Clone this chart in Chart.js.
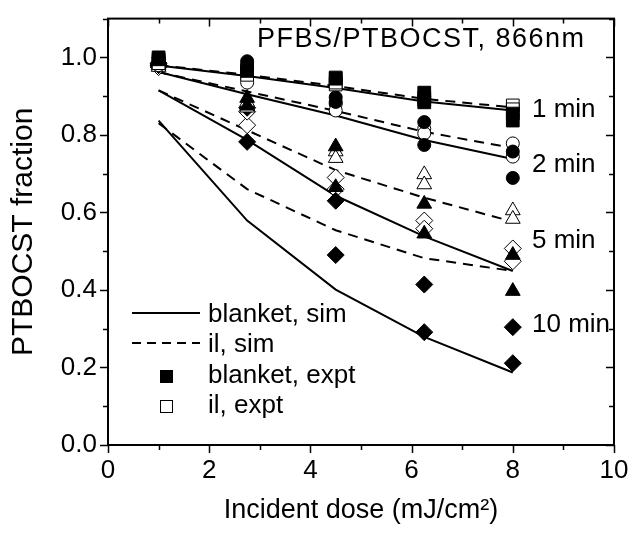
<!DOCTYPE html>
<html><head><meta charset="utf-8">
<script src="https://cdn.jsdelivr.net/npm/chart.js@4/dist/chart.umd.min.js"></script>
<style>html,body{margin:0;padding:0;background:#fff}</style>
</head><body>
<canvas id="c" width="633" height="541"></canvas>
<script>
// ---- data ----
const doses = [1, 2.75, 4.5, 6.25, 8];
const xTickValues = [0, 2, 4, 6, 8, 10];
const xTickLabels = ['0', '2', '4', '6', '8', '10'];
const yTickValues = [0, 0.2, 0.4, 0.6, 0.8, 1.0];
const yTickLabels = ['0.0', '0.2', '0.4', '0.6', '0.8', '1.0'];

// simulations (solid = blanket, dashed = il)
const simBlanket1  = [0.979, 0.952, 0.921, 0.886, 0.863];
const simIl1       = [0.980, 0.955, 0.926, 0.893, 0.871];
const simBlanket2  = [0.962, 0.905, 0.850, 0.787, 0.738];
const simIl2       = [0.962, 0.912, 0.862, 0.808, 0.766];
const simBlanket5  = [0.915, 0.787, 0.643, 0.538, 0.449];
const simIl5       = [0.915, 0.812, 0.709, 0.638, 0.576];
const simBlanket10 = [0.837, 0.579, 0.401, 0.279, 0.187];
const simIl10      = [0.830, 0.660, 0.554, 0.482, 0.449];

// experiments, two runs each (a, b)
const exBlanket1a  = [1.000, 0.970, 0.948, 0.909, 0.855];
const exBlanket1b  = [0.995, 0.965, 0.945, 0.884, 0.837];
const exIl1a       = [0.990, 0.960, 0.930, 0.897, 0.876];
const exIl1b       = [0.985, 0.955, 0.935, 0.890, 0.866];
const exBlanket2a  = [0.998, 0.990, 0.897, 0.833, 0.757];
const exBlanket2b  = [0.990, 0.975, 0.885, 0.774, 0.689];
const exIl2a       = [0.985, 0.948, 0.880, 0.816, 0.778];
const exIl2b       = [0.980, 0.935, 0.863, 0.804, 0.744];
const exBlanket5a  = [0.990, 0.895, 0.770, 0.622, 0.490];
const exBlanket5b  = [0.985, 0.875, 0.665, 0.545, 0.397];
const exIl5a       = [0.980, 0.885, 0.757, 0.698, 0.605];
const exIl5b       = [0.975, 0.870, 0.740, 0.672, 0.583];
const exBlanket10a = [0.985, 0.782, 0.630, 0.414, 0.304];
const exBlanket10b = [0.980, 0.870, 0.490, 0.291, 0.211];
const exIl10a      = [0.975, 0.825, 0.690, 0.579, 0.507];
const exIl10b      = [0.980, 0.860, 0.660, 0.558, 0.474];

const titleText = 'PFBS/PTBOCST, 866nm';
const timeLabels = ['1 min', '2 min', '5 min', '10 min'];
const legendLabels = ['blanket, sim', 'il, sim', 'blanket, expt', 'il, expt'];

// ---- build ----
const FONT = '"Liberation Sans", Arial, Helvetica, sans-serif';
const pts = (ys) => doses.map((x, i) => ({x: x, y: ys[i]}));
const pts2 = (a, b) => pts(a).concat(pts(b));

function markerSet(a, b, style, r, filled) {
  return {
    type: 'scatter', data: pts2(a, b), showLine: false,
    pointStyle: style, pointRadius: r, pointHoverRadius: r,
    backgroundColor: filled ? '#000' : '#fff', borderColor: '#000', borderWidth: 1
  };
}
function lineSet(ys, dashed) {
  return {
    type: 'line', data: pts(ys), showLine: true, fill: false,
    borderColor: '#000', borderWidth: 2, borderDash: dashed ? [10, 7] : [],
    pointRadius: 0, tension: 0
  };
}

const datasets = [
  markerSet(exBlanket1a, exBlanket1b, 'rect', 9, true),
  markerSet(exIl1a, exIl1b, 'rect', 9, false),
  markerSet(exBlanket2a, exBlanket2b, 'circle', 6.5, true),
  markerSet(exIl2a, exIl2b, 'circle', 6.5, false),
  markerSet(exBlanket5a, exBlanket5b, 'triangle', 8.5, true),
  markerSet(exIl5a, exIl5b, 'triangle', 8.5, false),
  markerSet(exBlanket10a, exBlanket10b, 'rectRot', 8.5, true),
  markerSet(exIl10a, exIl10b, 'rectRot', 8.5, false),
  lineSet(simBlanket1, false), lineSet(simIl1, true),
  lineSet(simBlanket2, false), lineSet(simIl2, true),
  lineSet(simBlanket5, false), lineSet(simIl5, true),
  lineSet(simBlanket10, false), lineSet(simIl10, true)
];

const framePlugin = {
  id: 'frame',
  afterDatasetsDraw(chart) {
    const {ctx, chartArea: a, scales: {x, y}} = chart;
    ctx.save();
    ctx.strokeStyle = '#000';
    ctx.lineWidth = 2;
    ctx.strokeRect(a.left, a.top, a.right - a.left, a.bottom - a.top);
    ctx.lineWidth = 1.5;
    ctx.beginPath();
    for (let i = 0; i <= 10; i++) {
      const px = Math.round(x.getPixelForValue(i)) + 0.5;
      const len = i % 2 === 0 ? 8 : 5;
      ctx.moveTo(px, a.bottom); ctx.lineTo(px, a.bottom + len);
      ctx.moveTo(px, a.top); ctx.lineTo(px, a.top + len);
    }
    for (let i = 0; i <= 11; i++) {
      const py = Math.round(y.getPixelForValue(i / 10)) + 0.5;
      const len = i % 2 === 0 ? 8 : 5;
      ctx.moveTo(a.left - len, py); ctx.lineTo(a.left, py);
      ctx.moveTo(a.right - len, py); ctx.lineTo(a.right, py);
    }
    ctx.stroke();
    ctx.restore();
  }
};

const textPlugin = {
  id: 'texts',
  afterDraw(chart) {
    const {ctx} = chart;
    ctx.save();
    ctx.fillStyle = '#000';
    ctx.textBaseline = 'alphabetic';
    ctx.textAlign = 'left';
    ctx.font = '27px ' + FONT;
    if ('letterSpacing' in ctx) ctx.letterSpacing = '1.5px';
    ctx.fillText(titleText, 257, 47);
    if ('letterSpacing' in ctx) ctx.letterSpacing = '0px';
    ctx.font = '26px ' + FONT;
    const tb = [117, 172, 248, 332];
    timeLabels.forEach((t, i) => ctx.fillText(t, 532, tb[i]));
    // legend
    const lb = [322, 352, 383, 413];
    legendLabels.forEach((t, i) => ctx.fillText(t, 208, lb[i]));
    ctx.strokeStyle = '#000';
    ctx.lineWidth = 2;
    ctx.beginPath(); ctx.moveTo(132, 313); ctx.lineTo(200, 313); ctx.stroke();
    ctx.setLineDash([9, 6]);
    ctx.beginPath(); ctx.moveTo(132, 343); ctx.lineTo(200, 343); ctx.stroke();
    ctx.setLineDash([]);
    ctx.lineWidth = 1;
    ctx.fillRect(160, 370, 13, 13);
    ctx.fillStyle = '#fff';
    ctx.fillRect(160.5, 400.5, 12, 12);
    ctx.strokeRect(160.5, 400.5, 12, 12);
    ctx.restore();
  }
};

new Chart(document.getElementById('c'), {
  type: 'scatter',
  data: {datasets: datasets},
  options: {
    responsive: false, animation: false,
    layout: {padding: {top: 12, right: 19, left: 0, bottom: 0}},
    plugins: {legend: {display: false}, tooltip: {enabled: false}},
    scales: {
      x: {
        type: 'linear', min: 0, max: 10,
        afterFit: (s) => { s.height = 96; },
        afterBuildTicks: (s) => { s.ticks = xTickValues.map(v => ({value: v})); },
        grid: {display: true, drawOnChartArea: false, drawTicks: true, tickLength: 8, color: 'rgba(0,0,0,0)'},
        border: {display: false},
        ticks: {color: '#000', font: {size: 26, family: FONT}, padding: 2, maxRotation: 0,
                callback: (v, i) => xTickLabels[i]},
        title: {display: true, text: 'Incident dose (mJ/cm²)', color: '#000',
                font: {size: 27, family: FONT}, padding: {top: 0, bottom: 14}}
      },
      y: {
        type: 'linear', min: 0, max: 1.1,
        afterFit: (s) => { s.width = 108; },
        afterBuildTicks: (s) => { s.ticks = yTickValues.map(v => ({value: v})); },
        grid: {display: true, drawOnChartArea: false, drawTicks: true, tickLength: 8, color: 'rgba(0,0,0,0)'},
        border: {display: false},
        ticks: {color: '#000', font: {size: 26, family: FONT}, padding: 3,
                callback: (v, i) => yTickLabels[i]},
        title: {display: true, text: 'PTBOCST fraction', color: '#000',
                font: {size: 30, family: FONT}, padding: {top: 6, bottom: 0}}
      }
    }
  },
  plugins: [framePlugin, textPlugin]
});
</script>
</body></html>
